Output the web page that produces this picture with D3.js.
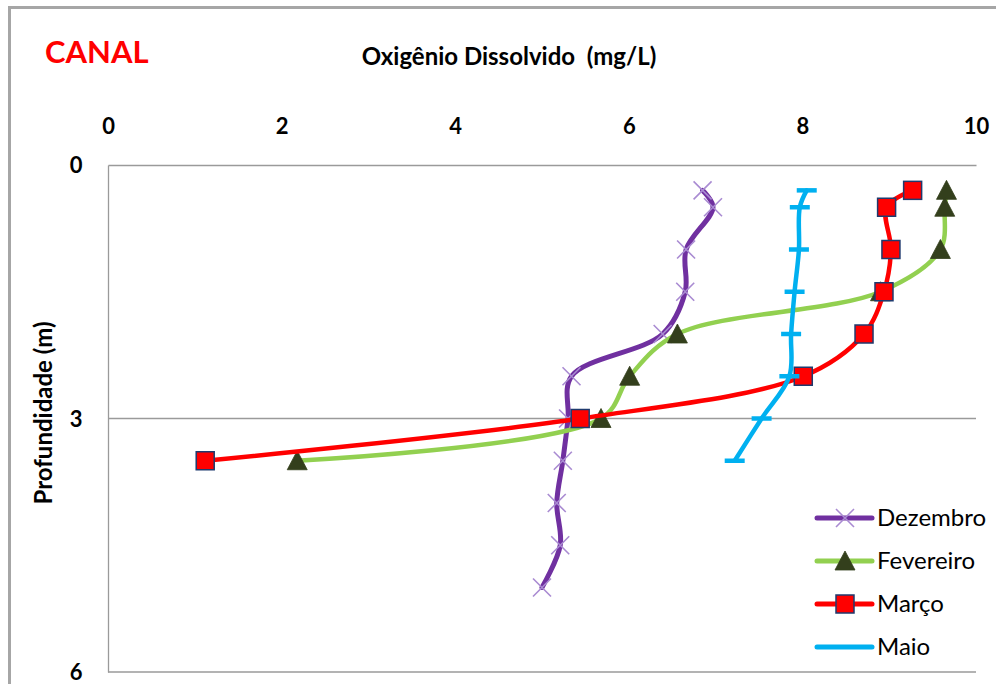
<!DOCTYPE html>
<html>
<head>
<meta charset="utf-8">
<script src="https://cdn.jsdelivr.net/npm/d3@7"></script>
<style>
  html, body { margin: 0; padding: 0; background: #fff; }
  svg { display: block; }
</style>
</head>
<body>
<svg id="chart" width="996" height="684"></svg>
<script>
// ---- data ----
const xTicks = [0, 2, 4, 6, 8, 10];
const yTicks = [0, 3, 6];
const depthDez = [0.3, 0.5, 1.0, 1.5, 2.0, 2.5, 3.0, 3.5, 4.0, 4.5, 5.0];
const valDez   = [6.85, 6.97, 6.66, 6.65, 6.39, 5.34, 5.30, 5.24, 5.17, 5.21, 5.00];
const depthFev = [0.3, 0.5, 1.0, 1.5, 2.0, 2.5, 3.0, 3.5];
const valFev   = [9.66, 9.64, 9.59, 8.90, 6.56, 6.01, 5.68, 2.18];
const depthMar = [0.3, 0.5, 1.0, 1.5, 2.0, 2.5, 3.0, 3.5];
const valMar   = [9.27, 8.97, 9.02, 8.94, 8.71, 8.01, 5.44, 1.12];
const depthMai = [0.3, 0.5, 1.0, 1.5, 2.0, 2.5, 3.0, 3.5];
const valMai   = [8.05, 7.97, 7.96, 7.91, 7.87, 7.85, 7.53, 7.22];
const seriesNames = ["Dezembro", "Fevereiro", "Março", "Maio"];

const series = [
  { name: seriesNames[0], depth: depthDez, val: valDez, color: "#7030A0", marker: "x", width: 5 },
  { name: seriesNames[1], depth: depthFev, val: valFev, color: "#92D050", marker: "triangle", width: 4.5 },
  { name: seriesNames[2], depth: depthMar, val: valMar, color: "#FF0000", marker: "square", width: 4.5 },
  { name: seriesNames[3], depth: depthMai, val: valMai, color: "#00B0F0", marker: "dash", width: 4.5 }
];

// ---- layout ----
const svg = d3.select("#chart");
const plot = { left: 108, right: 976, top: 165, bottom: 672 };
const x = d3.scaleLinear().domain([0, 10]).range([plot.left, plot.right]);
const y = d3.scaleLinear().domain([0, 6]).range([plot.top, plot.bottom]);
const FONT = "Lato, 'Open Sans', sans-serif";

// outer frame
svg.append("rect").attr("x", 9.5).attr("y", 7.5).attr("width", 1000).attr("height", 700)
  .attr("fill", "none").attr("stroke", "#a6a6a6").attr("stroke-width", 3);

// gridlines (horizontal)
svg.append("g").selectAll("line").data(yTicks.filter(d => d !== 0)).join("line")
  .attr("x1", plot.left).attr("x2", plot.right)
  .attr("y1", d => y(d)).attr("y2", d => y(d))
  .attr("stroke", "#9a9a9a").attr("stroke-width", 1.3);

// top x axis
const xAxis = d3.axisTop(x).tickValues(xTicks).tickSize(0).tickPadding(0).tickFormat(d3.format("d"));
const gx = svg.append("g").attr("transform", `translate(0,${plot.top})`).call(xAxis);
gx.select(".domain").attr("stroke", "#9a9a9a").attr("stroke-width", 1.3);
gx.selectAll("text").attr("y", 126 - plot.top).attr("dy", "0.35em")
  .attr("font-family", FONT).attr("font-weight", "bold").attr("font-size", 22).attr("fill", "#000");

// left y axis
const yAxis = d3.axisLeft(y).tickValues(yTicks).tickSize(0).tickPadding(0).tickFormat(d3.format("d"));
const gy = svg.append("g").attr("transform", `translate(${plot.left},0)`).call(yAxis);
gy.select(".domain").attr("stroke", "#9a9a9a").attr("stroke-width", 1.3);
gy.selectAll("text").attr("x", 76 - plot.left).attr("text-anchor", "middle").attr("dy", "0.35em")
  .attr("font-family", FONT).attr("font-weight", "bold").attr("font-size", 22).attr("fill", "#000");

// titles
svg.append("text").attr("x", 45).attr("y", 63).text("CANAL")
  .attr("font-family", FONT).attr("font-weight", "bold").attr("font-size", 31).attr("fill", "#FF0000");
svg.append("text").attr("x", 509).attr("y", 65).attr("text-anchor", "middle")
  .text("Oxigênio Dissolvido  (mg/L)").attr("xml:space", "preserve")
  .attr("font-family", FONT).attr("font-weight", "bold").attr("font-size", 24).attr("fill", "#000");
svg.append("text").attr("transform", "translate(52,413) rotate(-90)").attr("text-anchor", "middle")
  .text("Profundidade (m)")
  .attr("font-family", FONT).attr("font-weight", "bold").attr("font-size", 24).attr("fill", "#000");

// ---- markers ----
function drawMarker(g, type, cx, cy) {
  if (type === "x") {
    const h = 9;
    g.append("path").attr("d", `M${cx-h},${cy-h}L${cx+h},${cy+h}M${cx-h},${cy+h}L${cx+h},${cy-h}`)
      .attr("stroke", "#A98BD2").attr("stroke-width", 1.6).attr("fill", "none");
  } else if (type === "triangle") {
    const w = 10, hUp = 10, hDn = 9;
    g.append("path").attr("d", `M${cx},${cy-hUp}L${cx+w},${cy+hDn}L${cx-w},${cy+hDn}Z`)
      .attr("fill", "#333F1C").attr("stroke", "#333F1C").attr("stroke-width", 0.8);
  } else if (type === "square") {
    const h = 9;
    g.append("rect").attr("x", cx - h).attr("y", cy - h).attr("width", 2*h).attr("height", 2*h)
      .attr("fill", "#FF0000").attr("stroke", "#1F3A6E").attr("stroke-width", 1.5);
  } else if (type === "dash") {
    g.append("line").attr("x1", cx - 10).attr("x2", cx + 10).attr("y1", cy).attr("y2", cy)
      .attr("stroke", "#00B0F0").attr("stroke-width", 4.5);
  }
}

const line = d3.line().x(d => x(d.v)).y(d => y(d.d)).curve(d3.curveCatmullRom.alpha(0.5));

series.forEach(s => {
  const pts = s.depth.map((d, i) => ({ d: d, v: s.val[i] }));
  const g = svg.append("g");
  g.append("path").datum(pts).attr("d", line)
    .attr("fill", "none").attr("stroke", s.color).attr("stroke-width", s.width)
    .attr("stroke-linejoin", "round").attr("stroke-linecap", "round");
  pts.forEach(p => drawMarker(g, s.marker, x(p.v), y(p.d)));
});

// ---- legend ----
const legY = [518, 561, 604, 647];
series.forEach((s, i) => {
  const g = svg.append("g");
  g.append("line").attr("x1", 817).attr("x2", 872).attr("y1", legY[i]).attr("y2", legY[i])
    .attr("stroke", s.color).attr("stroke-width", 5).attr("stroke-linecap", "round");
  drawMarker(g, s.marker === "dash" ? "none" : s.marker, 845, legY[i]);
  g.append("text").attr("x", 877).attr("y", legY[i]).attr("dy", "0.35em").text(s.name)
    .attr("font-family", FONT).attr("font-size", 24).attr("fill", "#000");
});
</script>
</body>
</html>
